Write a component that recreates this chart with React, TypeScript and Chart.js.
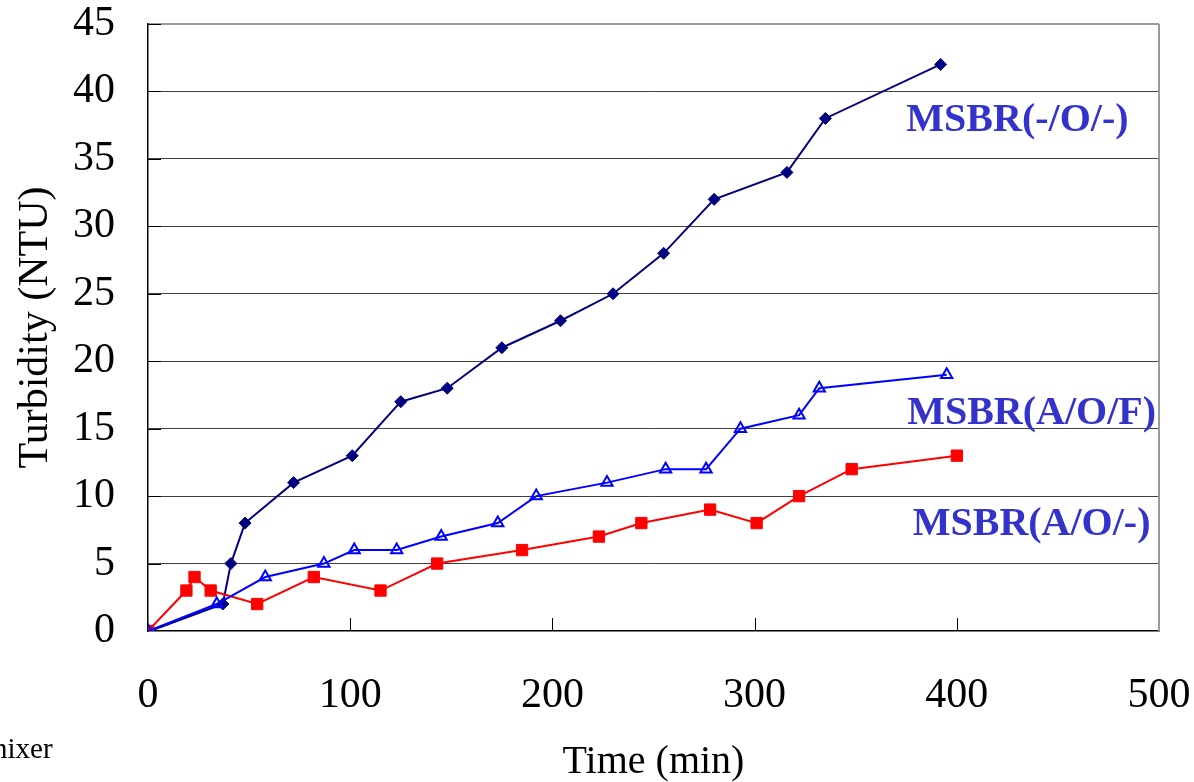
import React, { useEffect, useRef } from "react";
import { Chart, registerables } from "chart.js";

Chart.register(...registerables);

// Time (min) and turbidity (NTU)
const navyX = [1, 37, 41, 48, 72, 101, 125, 148, 175, 204, 230, 255, 280, 316, 335, 392];
const navyY = [0, 2, 5, 8, 11, 13, 17, 18, 21, 23, 25, 28, 32, 34, 38, 42];

const blueX = [0, 34, 58, 87, 102, 123, 145, 173, 192, 227, 256, 276, 293, 322, 332, 395];
const blueY = [0, 2, 4, 5, 6, 6, 7, 8, 10, 11, 12, 12, 15, 16, 18, 19];

const redX = [0, 19, 23, 31, 54, 82, 115, 143, 185, 223, 244, 278, 301, 322, 348, 400];
const redY = [0, 3, 4, 3, 2, 4, 3, 5, 6, 7, 8, 9, 8, 10, 12, 13];

const seriesNames = ["MSBR(-/O/-)", "MSBR(A/O/F)", "MSBR(A/O/-)"];
// label anchor positions in data units (x centre, y baseline)
const labelX = [430, 437, 437];
const labelY = [37.07, 15.35, 7.12];

const xMin = 0, xMax = 500, xStep = 100;
const yMin = 0, yMax = 45, yStep = 5;

const xTitle = "Time (min)";
const yTitle = "Turbidity (NTU)";
const cutText = "mixer";

const SERIF = "'Liberation Serif', 'Times New Roman', serif";

const toPts = (xs: number[], ys: number[]) => xs.map((x, i) => ({ x, y: ys[i] }));

const decorPlugin = {
  id: "decor",
  beforeDatasetsDraw(chart: any) {
    const { ctx, chartArea, scales } = chart;
    const xs = scales.x, ys = scales.y;
    ctx.save();
    // right border (gray)
    ctx.strokeStyle = "#9a9a9a";
    ctx.lineWidth = 2;
    ctx.beginPath();
    ctx.moveTo(chartArea.right, chartArea.top);
    ctx.lineTo(chartArea.right, chartArea.bottom);
    ctx.stroke();
    // inward tick marks
    ctx.strokeStyle = "#000";
    ctx.lineWidth = 1;
    ctx.beginPath();
    for (let v = xMin + xStep; v < xMax; v += xStep) {
      const px = Math.round(xs.getPixelForValue(v)) + 0.5;
      ctx.moveTo(px, chartArea.bottom);
      ctx.lineTo(px, chartArea.bottom - 13);
    }
    for (let v = yMin + yStep; v <= yMax; v += yStep) {
      const py = Math.round(ys.getPixelForValue(v)) + 0.5;
      ctx.moveTo(chartArea.left, py);
      ctx.lineTo(chartArea.left + 13, py);
    }
    ctx.stroke();
    ctx.restore();
  },
  afterDraw(chart: any) {
    const { ctx, scales } = chart;
    ctx.save();
    ctx.fillStyle = "#3333cc";
    ctx.font = `bold 40px ${SERIF}`;
    ctx.textAlign = "center";
    ctx.textBaseline = "alphabetic";
    seriesNames.forEach((t, i) => {
      ctx.fillText(t, scales.x.getPixelForValue(labelX[i]), scales.y.getPixelForValue(labelY[i]));
    });
    ctx.fillStyle = "#000";
    ctx.font = `29px ${SERIF}`;
    ctx.textAlign = "left";
    ctx.fillText(cutText, -15, 758);
    ctx.restore();
  },
};

const zeroPad = (s: any) => {
  s.paddingTop = 0;
  s.paddingBottom = 0;
  s.paddingLeft = 0;
  s.paddingRight = 0;
};

export default function App() {
  const ref = useRef<HTMLCanvasElement | null>(null);

  useEffect(() => {
    if (!ref.current) return;
    const chart = new Chart(ref.current, {
      type: "scatter",
      data: {
        datasets: [
          {
            label: seriesNames[1],
            data: toPts(blueX, blueY),
            showLine: true,
            borderColor: "#0000ff",
            borderWidth: 2,
            pointStyle: "triangle",
            pointRadius: 6.5,
            pointBorderWidth: 2,
            pointBorderColor: "#0000ff",
            pointBackgroundColor: "rgba(0,0,0,0)",
          },
          {
            label: seriesNames[2],
            data: toPts(redX, redY),
            showLine: true,
            borderColor: "#ff0000",
            borderWidth: 2,
            pointStyle: "rect",
            pointRadius: 8,
            pointBorderWidth: 1,
            pointBorderColor: "#ff0000",
            pointBackgroundColor: "#ff0000",
          },
          {
            label: seriesNames[0],
            data: toPts(navyX, navyY),
            showLine: true,
            borderColor: "#000080",
            borderWidth: 2,
            pointStyle: "rectRot",
            pointRadius: 6,
            pointBorderWidth: 1,
            pointBorderColor: "#000080",
            pointBackgroundColor: "#000080",
          },
        ],
      },
      options: {
        responsive: false,
        animation: false,
        devicePixelRatio: 1,
        layout: { padding: { top: 24, right: 35, left: 0, bottom: 0 } },
        plugins: {
          legend: { display: false },
          tooltip: { enabled: false },
        },
        scales: {
          x: {
            type: "linear",
            min: xMin,
            max: xMax,
            afterFit: (s: any) => { s.height = 151; zeroPad(s); },
            ticks: {
              stepSize: xStep,
              autoSkip: false,
              maxRotation: 0,
              padding: 44,
              color: "#000",
              font: { family: SERIF, size: 42, lineHeight: 1 },
            },
            grid: { display: false, drawTicks: false },
            border: { display: true, color: "#000", width: 1.5 },
            title: {
              display: true,
              text: xTitle,
              color: "#000",
              font: { family: SERIF, size: 40, lineHeight: 1 },
              padding: 0,
            },
          },
          y: {
            type: "linear",
            min: yMin,
            max: yMax,
            afterFit: (s: any) => { s.width = 148; zeroPad(s); },
            ticks: {
              stepSize: yStep,
              padding: 33,
              color: "#000",
              font: { family: SERIF, size: 42, lineHeight: 1 },
            },
            grid: {
              drawTicks: false,
              color: (c: any) => (c.tick && c.tick.value === yMax ? "#9a9a9a" : c.tick && c.tick.value === yMin ? "rgba(0,0,0,0)" : "#404040"),
              lineWidth: (c: any) => (c.tick && c.tick.value === yMax ? 2 : 1),
            },
            border: { display: true, color: "#000", width: 1.5 },
            title: {
              display: true,
              text: yTitle,
              color: "#000",
              font: { family: SERIF, size: 42, lineHeight: 1.2 },
              padding: { top: 11, bottom: 0 },
            },
          },
        },
      },
      plugins: [decorPlugin],
    } as any);
    return () => chart.destroy();
  }, []);

  return (
    <div style={{ position: "absolute", left: 0, top: 0, width: 1194, height: 782, overflow: "hidden", background: "#fff" }}>
      <canvas ref={ref} width={1194} height={782} style={{ display: "block", width: 1194, height: 782 }} />
    </div>
  );
}
